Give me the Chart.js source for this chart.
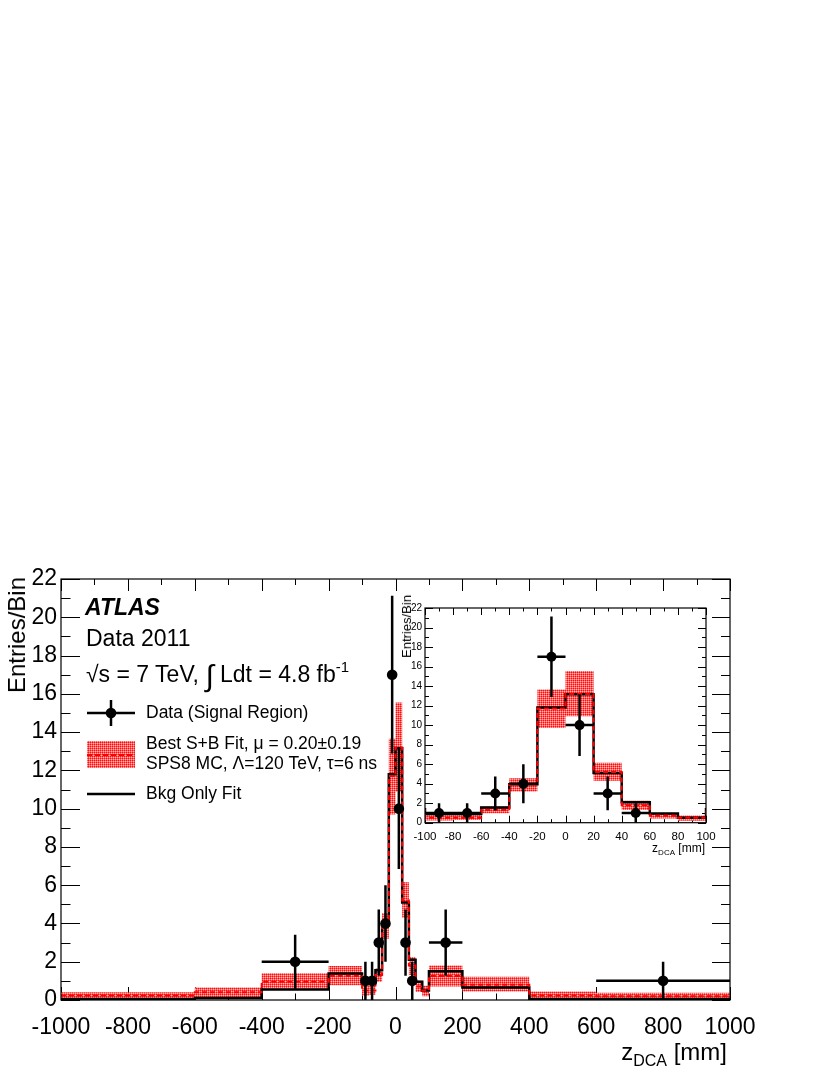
<!DOCTYPE html>
<html>
<head>
<meta charset="utf-8">
<script src="https://cdn.jsdelivr.net/npm/chart.js@4.4.1/dist/chart.umd.min.js"></script>
<style>
  body { margin: 0; background: #fff; }
  #wrap { position: relative; width: 830px; height: 1075px; overflow: hidden;
          font-family: "Liberation Sans", Arial, Helvetica, sans-serif; color: #000; }
  #mainChart { position: absolute; left: 0; top: 0; }
  #insetChart { position: absolute; left: 395px; top: 590px; }
  .txt { position: absolute; white-space: nowrap; line-height: 1; }
  .vt { writing-mode: vertical-rl; transform: rotate(180deg); }
</style>
</head>
<body>
<div id="wrap">
  <canvas id="mainChart" width="830" height="1075"></canvas>
  <canvas id="insetChart" width="330" height="275"></canvas>

  <div class="txt" style="left:85px;top:596px;font-size:23px;font-weight:bold;font-style:italic">ATLAS</div>
  <div class="txt" style="left:86px;top:627px;font-size:23px">Data 2011</div>
  <div class="txt" style="left:86px;top:657px;font-size:23px">√s = 7 TeV, <span style="font-size:30px;position:relative;top:4px">∫</span> Ldt = 4.8 fb<span style="font-size:15px;position:relative;top:-10px">-1</span></div>

  <div class="txt" style="left:146px;top:704px;font-size:17.5px">Data (Signal Region)</div>
  <div class="txt" style="left:146px;top:735px;font-size:17.5px">Best S+B Fit, μ = 0.20±0.19</div>
  <div class="txt" style="left:146px;top:755px;font-size:17.5px">SPS8 MC, Λ=120 TeV, τ=6 ns</div>
  <div class="txt" style="left:146px;top:785px;font-size:17.5px">Bkg Only Fit</div>

  <div class="txt vt" style="left:5px;top:577px;font-size:24px">Entries/Bin</div>
  <div class="txt" style="right:103px;top:1040px;font-size:24px">z<span style="font-size:16px;position:relative;top:6px">DCA</span> [mm]</div>

  <div class="txt vt" style="left:400px;top:595px;font-size:13px">Entries/Bin</div>
  <div class="txt" style="right:125px;top:842px;font-size:12px">z<span style="font-size:8px;position:relative;top:3px">DCA</span> [mm]</div>
</div>

<script>
// bin edges of the z_DCA histogram (mm)
const binEdges = [-1000, -600, -400, -200, -100, -80, -60, -40, -20, 0, 20, 40, 60, 80, 100, 200, 400, 600, 1000];

// background-only fit, per bin
const bkgFit = [0.05, 0.1, 0.55, 1.38, 0.88, 0.88, 1.55, 3.95, 11.8, 13.15, 5.1, 2.1, 0.95, 0.5, 1.5, 0.65, 0.05, 0.05];

// best S+B fit: central value and uncertainty band
const sbFit  = [0.24, 0.4, 0.96, 1.25, 0.5, 0.5, 1.3, 3.9, 11.7, 13.2, 5.2, 1.8, 0.7, 0.5, 1.25, 0.8, 0.23, 0.2];
const sbLow  = [0.05, 0.15, 0.6, 0.77, 0.22, 0.28, 0.96, 3.2, 9.7, 10.9, 4.3, 1.3, 0.42, 0.2, 0.7, 0.45, 0.05, 0.04];
const sbHigh = [0.4, 0.65, 1.4, 1.78, 0.82, 0.85, 1.65, 4.55, 13.65, 15.55, 6.15, 2.25, 1.0, 0.75, 1.8, 1.22, 0.44, 0.38];

// data (signal region)
const dataZ   = [-300, -90, -70, -50, -30, -10, 10, 30, 50, 150, 800];
const dataN   = [2, 1, 1, 3, 4, 17, 10, 3, 1, 3, 1];
const dataErr = [1.41, 1, 1, 1.73, 2, 4.12, 3.16, 1.73, 1, 1.73, 1];

// tick labels
const mainXTicks = [-1000, -800, -600, -400, -200, 0, 200, 400, 600, 800, 1000];
const insetXTicks = [-100, -80, -60, -40, -20, 0, 20, 40, 60, 80, 100];

const FONT = '"Liberation Sans", Arial, Helvetica, sans-serif';
Chart.defaults.font.family = FONT;
Chart.defaults.color = '#000';

// step points: value of bin i starts at its left edge, last edge closes the histogram
function stepPoints(vals) {
  return binEdges.map((e, i) => ({ x: e, y: vals[Math.min(i, vals.length - 1)] }));
}

function binOf(z) {
  for (let i = 0; i < binEdges.length - 1; i++) {
    if (z >= binEdges[i] && z < binEdges[i + 1]) return [binEdges[i], binEdges[i + 1]];
  }
  return [z, z];
}

function errV() {
  const pts = [];
  dataZ.forEach((z, i) => {
    pts.push({ x: z, y: Math.max(0, dataN[i] - dataErr[i]) }, { x: z, y: dataN[i] + dataErr[i] }, { x: z, y: null });
  });
  return pts;
}
function errH() {
  const pts = [];
  dataZ.forEach((z, i) => {
    const [lo, hi] = binOf(z);
    pts.push({ x: lo, y: dataN[i] }, { x: hi, y: dataN[i] }, { x: hi, y: null });
  });
  return pts;
}

function bandPattern() {
  const c = document.createElement('canvas');
  c.width = 2; c.height = 2;
  const g = c.getContext('2d');
  g.fillStyle = '#ff1010'; g.fillRect(0, 0, 1, 1);
  g.fillStyle = '#ff5a5a'; g.fillRect(1, 0, 1, 1); g.fillRect(0, 1, 1, 1);
  g.fillStyle = '#ffb8b8'; g.fillRect(1, 1, 1, 1);
  return g.createPattern(c, 'repeat');
}
const pattern = bandPattern();

function datasets(lw, r) {
  return [
    { data: stepPoints(sbLow), stepped: 'before', borderWidth: 0, pointRadius: 0, fill: false, order: 6 },
    { data: stepPoints(sbHigh), stepped: 'before', borderWidth: 0, pointRadius: 0, fill: '-1', backgroundColor: pattern, order: 6 },
    { data: stepPoints(bkgFit), stepped: 'before', borderColor: '#000', borderWidth: lw, pointRadius: 0, fill: false, order: 5 },
    { data: stepPoints(sbFit), stepped: 'before', borderColor: '#ff0000', borderWidth: 2, borderDash: [5, 3], pointRadius: 0, fill: false, order: 4 },
    { data: errV(), borderColor: '#000', borderWidth: 2.5, pointRadius: 0, fill: false, spanGaps: false, order: 3 },
    { data: errH(), borderColor: '#000', borderWidth: 2.5, pointRadius: 0, fill: false, spanGaps: false, order: 2 },
    { data: dataZ.map((z, i) => ({ x: z, y: dataN[i] })), showLine: false, pointRadius: r, pointHoverRadius: r,
      pointBackgroundColor: '#000', pointBorderColor: '#000', pointBorderWidth: 0, order: 1 }
  ];
}

// ROOT-style frame with inward ticks on all four sides
const rootFrame = {
  id: 'rootFrame',
  beforeDatasetsDraw(chart, args, o) {
    const { ctx, chartArea: a, scales: { x, y } } = chart;
    ctx.save();
    ctx.strokeStyle = '#000';
    ctx.lineWidth = 1;
    const seg = (x1, y1, x2, y2) => { ctx.beginPath(); ctx.moveTo(x1, y1); ctx.lineTo(x2, y2); ctx.stroke(); };
    const isMajor = (v, step) => Math.abs(v / step - Math.round(v / step)) < 1e-6;
    for (let v = x.min; v <= x.max + 1e-9; v += o.xMinor) {
      const px = Math.round(x.getPixelForValue(v)) + 0.5;
      const m = isMajor(v, o.xMajor);
      seg(px, a.bottom, px, a.bottom - (m ? o.xB : o.xB / 2));
      seg(px, a.top, px, a.top + (m ? o.xT : o.xT / 2));
    }
    for (let v = y.min; v <= y.max + 1e-9; v += o.yMinor) {
      const py = Math.round(y.getPixelForValue(v)) + 0.5;
      const m = isMajor(v, o.yMajor);
      seg(a.left, py, a.left + (m ? o.yL : o.yL / 2), py);
      seg(a.right, py, a.right - (m ? o.yR : o.yR / 2), py);
    }
    ctx.restore();
  },
  afterDatasetsDraw(chart) {
    const { ctx, chartArea: a } = chart;
    ctx.save();
    ctx.strokeStyle = '#000';
    ctx.lineWidth = 1.2;
    ctx.strokeRect(a.left, a.top, a.right - a.left, a.bottom - a.top);
    ctx.restore();
  }
};

// legend glyphs of the main plot
const legendGlyphs = {
  id: 'legendGlyphs',
  afterDraw(chart) {
    const ctx = chart.ctx;
    ctx.save();
    ctx.strokeStyle = '#000';
    ctx.lineWidth = 2.5;
    ctx.beginPath(); ctx.moveTo(87, 713); ctx.lineTo(135, 713); ctx.stroke();
    ctx.beginPath(); ctx.moveTo(111, 700); ctx.lineTo(111, 726); ctx.stroke();
    ctx.fillStyle = '#000';
    ctx.beginPath(); ctx.arc(111, 713, 5.3, 0, Math.PI * 2); ctx.fill();

    ctx.fillStyle = pattern;
    ctx.fillRect(87, 741, 48, 27);
    ctx.strokeStyle = '#ff0000';
    ctx.lineWidth = 2;
    ctx.setLineDash([5, 3]);
    ctx.beginPath(); ctx.moveTo(87, 755); ctx.lineTo(135, 755); ctx.stroke();
    ctx.setLineDash([]);

    ctx.strokeStyle = '#000';
    ctx.lineWidth = 2.5;
    ctx.beginPath(); ctx.moveTo(87, 794); ctx.lineTo(135, 794); ctx.stroke();
    ctx.restore();
  }
};

const mainChart = new Chart(document.getElementById('mainChart'), {
  type: 'line',
  data: { datasets: datasets(2.5, 5.3) },
  options: {
    responsive: false,
    animation: false,
    events: [],
    layout: { padding: { left: 0, top: 579, right: 100, bottom: 0 } },
    plugins: {
      legend: { display: false },
      tooltip: { enabled: false },
      rootFrame: { xMajor: 200, xMinor: 100, xB: 13, xT: 12, yMajor: 2, yMinor: 1, yL: 19, yR: 18 }
    },
    scales: {
      x: {
        type: 'linear', min: -1000, max: 1000,
        grid: { display: false, drawTicks: false }, border: { display: false },
        afterFit: s => { s.height = 75; },
        afterBuildTicks: s => { s.ticks = mainXTicks.map(v => ({ value: v })); },
        ticks: { padding: 14, maxRotation: 0, font: { size: 23 }, color: '#000', callback: v => String(v) }
      },
      y: {
        min: 0, max: 22,
        grid: { display: false, drawTicks: false }, border: { display: false },
        afterFit: s => { s.width = 61; },
        ticks: { stepSize: 2, padding: 4, font: { size: 23 }, color: '#000', callback: v => String(v) }
      }
    }
  },
  plugins: [rootFrame, legendGlyphs]
});

const insetChart = new Chart(document.getElementById('insetChart'), {
  type: 'line',
  data: { datasets: datasets(2.5, 5) },
  options: {
    responsive: false,
    animation: false,
    events: [],
    layout: { padding: { left: 0, top: 18, right: 19, bottom: 0 } },
    plugins: {
      legend: { display: false },
      tooltip: { enabled: false },
      rootFrame: { xMajor: 20, xMinor: 10, xB: 7, xT: 7, yMajor: 2, yMinor: 1, yL: 8, yR: 8 }
    },
    scales: {
      x: {
        type: 'linear', min: -100, max: 100,
        grid: { display: false, drawTicks: false }, border: { display: false },
        afterFit: s => { s.height = 42.3; },
        afterBuildTicks: s => { s.ticks = insetXTicks.map(v => ({ value: v })); },
        ticks: { padding: 7, maxRotation: 0, font: { size: 11.5 }, color: '#000', callback: v => String(v) }
      },
      y: {
        min: 0, max: 22,
        grid: { display: false, drawTicks: false }, border: { display: false },
        afterFit: s => { s.width = 30; },
        ticks: { stepSize: 2, padding: 3, font: { size: 10 }, color: '#000', callback: v => String(v) }
      }
    }
  },
  plugins: [rootFrame]
});
</script>
</body>
</html>
